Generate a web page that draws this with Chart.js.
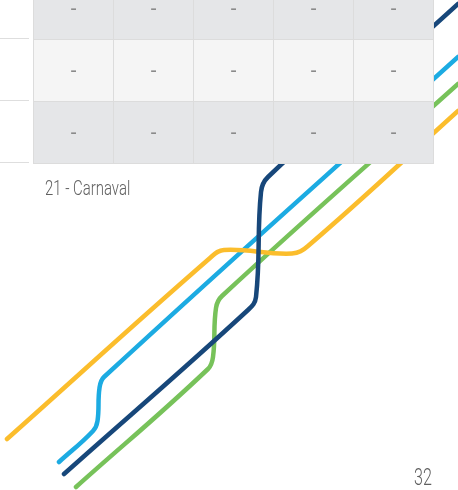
<!DOCTYPE html>
<html>
<head>
<meta charset="utf-8">
<script src="https://cdn.jsdelivr.net/npm/chart.js@4/dist/chart.umd.min.js"></script>
<style>
  html, body { margin:0; padding:0; background:#fff; }
  #page { position:relative; width:458px; height:490px; overflow:hidden; }
  #lines { position:absolute; left:0; top:0; }
  .rule { position:absolute; left:0; width:29px; height:1px; background:#dedede; }
  table { position:absolute; left:33px; top:-23px; border-collapse:collapse; z-index:2; }
  td { width:79px; height:61px; padding:0; border:1px solid #dcdcdc; text-align:center; vertical-align:middle;
       font-family:"Liberation Sans", sans-serif; font-size:20px; color:#8a8a8a; }
  tr.dark td { background:#e5e6e8; }
  tr.light td { background:#f5f5f5; }
  .label { position:absolute; font-family:Roboto, sans-serif; font-weight:300; color:#5f5f5f;
           transform-origin:left top; white-space:nowrap; }
</style>
</head>
<body>
<div id="page">
  <canvas id="lines" width="458" height="490"></canvas>
  <div class="rule" style="top:38px"></div>
  <div class="rule" style="top:100px"></div>
  <div class="rule" style="top:162px"></div>
  <table id="tbl"></table>
  <div class="label" id="caption" style="left:45px; top:176px; font-size:21px; transform:scaleX(0.71)"></div>
  <div class="label" id="pageNo" style="left:414px; top:464px; font-size:23px; transform:scaleX(0.7)"></div>
</div>
<script>
document.addEventListener('DOMContentLoaded', () => {
    // table content (3 visible rows x 5 columns)
    const tableRows = [
        ['-', '-', '-', '-', '-'],
        ['-', '-', '-', '-', '-'],
        ['-', '-', '-', '-', '-']
    ];
    const caption = '21 - Carnaval';
    const pageNumber = '32';

    // the four lines
    const darkBlueX  = [64, 248, 256, 261, 268, 458];
    const darkBlueY  = [474, 310, 297, 192, 177, 4];
    const yellowX    = [7, 210, 224, 292, 308, 458];
    const yellowY    = [439, 258, 250, 253.5, 246, 111];
    const greenX     = [76, 208, 213, 216, 222, 458];
    const greenY     = [487, 369, 357, 308, 296, 84];
    const lightBlueX = [59, 93, 97.5, 99.5, 104, 458];
    const lightBlueY = [462, 431, 421, 388, 377, 57];

    const tbl = document.getElementById('tbl');
    tableRows.forEach((row, i) => {
        const tr = document.createElement('tr');
        tr.className = i % 2 === 0 ? 'dark' : 'light';
        row.forEach(v => {
            const td = document.createElement('td');
            td.textContent = v;
            tr.appendChild(td);
        });
        tbl.appendChild(tr);
    });
    document.getElementById('caption').textContent = caption;
    document.getElementById('pageNo').textContent = pageNumber;

    const zip = (xs, ys) => xs.map((x, i) => ({ x: x, y: ys[i] }));
    const line = (label, xs, ys, color) => ({
        label: label,
        data: zip(xs, ys),
        showLine: true,
        borderColor: color,
        backgroundColor: color,
        borderWidth: 4.5,
        borderCapStyle: 'round',
        borderJoinStyle: 'round',
        pointRadius: 0,
        tension: 0.4
    });

    new Chart(document.getElementById('lines').getContext('2d'), {
        type: 'scatter',
        data: {
            datasets: [
                line('dark blue', darkBlueX, darkBlueY, '#17477a'),
                line('yellow', yellowX, yellowY, '#fbbd2c'),
                line('green', greenX, greenY, '#77c25a'),
                line('light blue', lightBlueX, lightBlueY, '#1cabe2')
            ]
        },
        options: {
            responsive: false,
            animation: false,
            devicePixelRatio: 1,
            layout: { padding: 0 },
            plugins: { legend: { display: false }, tooltip: { enabled: false } },
            scales: {
                x: { type: 'linear', min: 0, max: 458, display: false },
                y: { type: 'linear', min: 0, max: 490, reverse: true, display: false }
            }
        }
    });
});
</script>
</body>
</html>
